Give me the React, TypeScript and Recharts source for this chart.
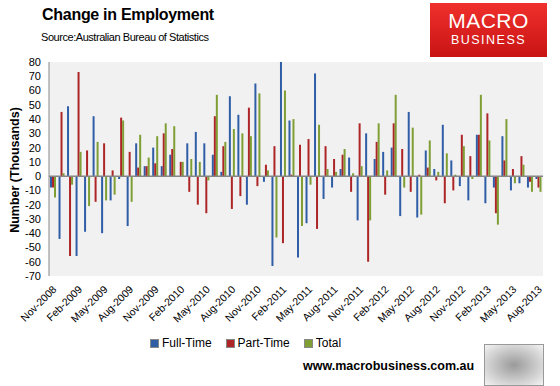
import {
  BarChart,
  Bar,
  XAxis,
  YAxis,
  CartesianGrid,
  ReferenceLine,
} from 'recharts';

const months = [
  'Nov-2008', 'Dec-2008', 'Jan-2009', 'Feb-2009', 'Mar-2009', 'Apr-2009',
  'May-2009', 'Jun-2009', 'Jul-2009', 'Aug-2009', 'Sep-2009', 'Oct-2009',
  'Nov-2009', 'Dec-2009', 'Jan-2010', 'Feb-2010', 'Mar-2010', 'Apr-2010',
  'May-2010', 'Jun-2010', 'Jul-2010', 'Aug-2010', 'Sep-2010', 'Oct-2010',
  'Nov-2010', 'Dec-2010', 'Jan-2011', 'Feb-2011', 'Mar-2011', 'Apr-2011',
  'May-2011', 'Jun-2011', 'Jul-2011', 'Aug-2011', 'Sep-2011', 'Oct-2011',
  'Nov-2011', 'Dec-2011', 'Jan-2012', 'Feb-2012', 'Mar-2012', 'Apr-2012',
  'May-2012', 'Jun-2012', 'Jul-2012', 'Aug-2012', 'Sep-2012', 'Oct-2012',
  'Nov-2012', 'Dec-2012', 'Jan-2013', 'Feb-2013', 'Mar-2013', 'Apr-2013',
  'May-2013', 'Jun-2013', 'Jul-2013', 'Aug-2013',
];

const fullTime = [
  -8, -44, 49, -56, -39, 42, -40, -17, -2, -35, 23, 7,
  20, 7, 15, 0, 23, 31, 23, 15, 3, 56, 43, -20,
  65, -4, -63, 107, 39, -57, -33, 72, -16, -8, 5, 13,
  -31, 30, 12, 17, 20, -28, 45, -29, 18, 5, 36, 11,
  -7, -17, 29, -19, -8, 28, -10, -5, -8, -2,
];

const partTime = [
  -8, 45, -56, 73, 18, -18, 23, 4, 41, 17, 6, 7,
  9, 30, 19, 10, -11, -20, -26, 42, 21, -23, -14, 48,
  -7, 8, 21, -47, 1, 22, 26, -37, 21, 12, 15, -11,
  37, -60, 24, -13, 37, 19, -11, 1, 6, -3, -19, -10,
  29, 14, 29, 44, -26, 11, 5, 14, -4, -8,
];

const total = [
  -15, 2, -6, 17, -21, 24, -17, -13, 39, -18, 29, 13,
  28, 37, 35, 10, 12, 10, -3, 57, 24, 33, 30, 28,
  58, 4, -43, 60, 40, -35, -6, 36, 5, 3, 19, 2,
  7, -31, 37, 4, 57, -8, 34, -27, 25, 3, 16, 1,
  21, -2, 57, 25, -34, 40, -5, 8, -11, -11,
];

const yTicks = [80, 70, 60, 50, 40, 30, 20, 10, 0, -10, -20, -30, -40, -50, -60, -70];

const data = months.map((month, i) => ({
  month,
  fullTime: fullTime[i],
  partTime: partTime[i],
  total: total[i],
}));

const BLUE = '#2f5da6';
const RED = '#ad2526';
const GREEN = '#7f9f35';
const FONT = '"Liberation Sans", Arial, sans-serif';

const MonthTick = (props: any) => {
  const { x, y, payload } = props;
  const ax = x + 4;
  const ay = y + 6;
  return (
    <text
      x={ax}
      y={ay}
      transform={`rotate(-45 ${ax} ${ay})`}
      textAnchor="end"
      fontSize={10.5}
      fontFamily={FONT}
      fill="#000"
    >
      {payload.value}
    </text>
  );
};

const legendItems = [
  { name: 'Full-Time', color: BLUE },
  { name: 'Part-Time', color: RED },
  { name: 'Total', color: GREEN },
];

export default function App() {
  return (
    <div
      style={{
        position: 'absolute',
        left: 0,
        top: 0,
        width: 560,
        height: 386,
        background: '#fff',
        overflow: 'hidden',
        fontFamily: FONT,
      }}
    >
      <div
        style={{
          position: 'absolute',
          left: 0,
          top: 6,
          width: 256,
          textAlign: 'center',
          fontSize: 16,
          fontWeight: 'bold',
          letterSpacing: -0.3,
        }}
      >
        Change in Employment
      </div>
      <div
        style={{
          position: 'absolute',
          left: 41,
          top: 31,
          fontSize: 11,
          letterSpacing: -0.45,
        }}
      >
        Source:Australian Bureau of Statistics
      </div>

      <div
        style={{
          position: 'absolute',
          left: 430,
          top: 3,
          width: 117,
          height: 54,
          background: 'linear-gradient(#f0302c, #c81414)',
          color: '#fff',
          textAlign: 'center',
        }}
      >
        <div style={{ fontSize: 21, marginTop: 7, lineHeight: '22px', letterSpacing: 0.5 }}>MACRO</div>
        <div style={{ fontSize: 12.5, lineHeight: '16px', letterSpacing: 1.5 }}>BUSINESS</div>
      </div>

      <div
        style={{
          position: 'absolute',
          left: 15,
          top: 170,
          transform: 'translate(-50%, -50%) rotate(-90deg)',
          whiteSpace: 'nowrap',
          fontSize: 12.5,
          fontWeight: 'bold',
        }}
      >
        Number (Thousands)
      </div>

      <BarChart
        width={560}
        height={386}
        data={data}
        margin={{ top: 62, right: 17, bottom: 50, left: 9 }}
        barGap={0}
        barSize={2}
        style={{ position: 'absolute', left: 0, top: 0 }}
      >
        <CartesianGrid fill="#f1f1f1" horizontal={false} vertical={false} />
        <XAxis
          dataKey="month"
          interval={2}
          height={60}
          tickLine={false}
          axisLine={false}
          tick={<MonthTick />}
        />
        <YAxis
          type="number"
          domain={[-70, 80]}
          ticks={yTicks}
          interval={0}
          allowDataOverflow
          width={40}
          tickLine={false}
          axisLine={{ stroke: '#868686' }}
          tick={{ fontSize: 11, fill: '#000', fontFamily: FONT }}
        />
        <ReferenceLine y={0} stroke="#868686" strokeWidth={1.5} />
        <Bar dataKey="fullTime" fill={BLUE} isAnimationActive={false} />
        <Bar dataKey="partTime" fill={RED} isAnimationActive={false} />
        <Bar dataKey="total" fill={GREEN} isAnimationActive={false} />
      </BarChart>

      <div
        style={{
          position: 'absolute',
          left: 150,
          top: 336,
          display: 'flex',
          fontSize: 12,
        }}
      >
        {legendItems.map((item) => (
          <div key={item.name} style={{ display: 'flex', alignItems: 'center', marginRight: 14 }}>
            <span
              style={{
                width: 7,
                height: 7,
                background: item.color,
                border: '1px solid #888',
                marginRight: 3,
              }}
            />
            {item.name}
          </div>
        ))}
      </div>

      <div
        style={{
          position: 'absolute',
          left: 303,
          top: 359,
          fontSize: 12.5,
          fontWeight: 'bold',
        }}
      >
        www.macrobusiness.com.au
      </div>
      <div
        style={{
          position: 'absolute',
          left: 484,
          top: 344,
          width: 58,
          height: 40,
          border: '1px solid #999',
          background: 'radial-gradient(#9a9a9a, #d8d8d8 70%, #f4f4f4)',
        }}
      />
    </div>
  );
}
